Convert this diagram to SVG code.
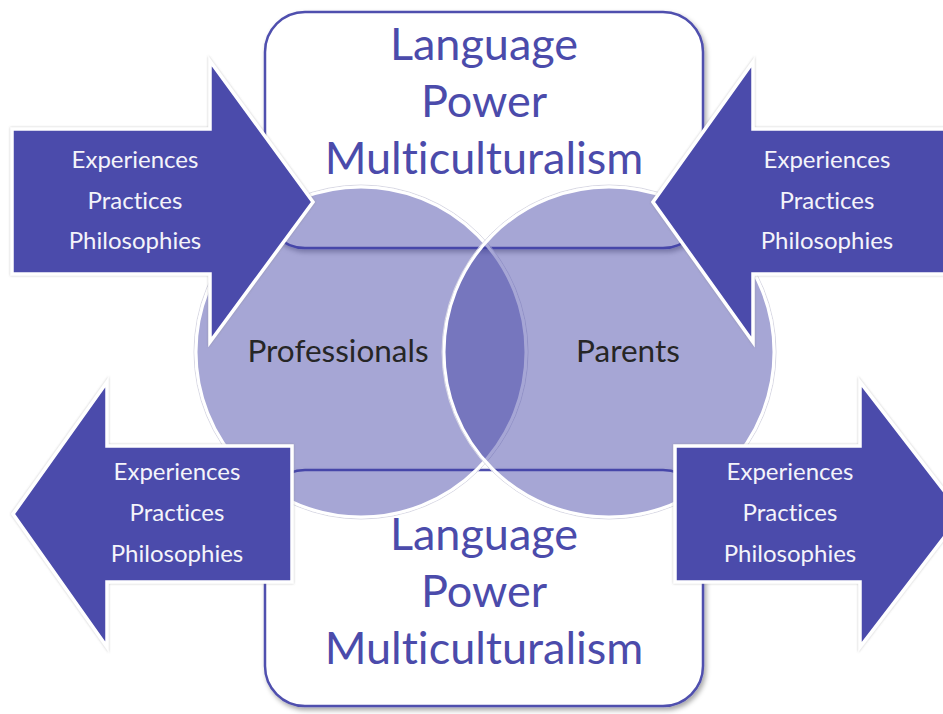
<svg xmlns="http://www.w3.org/2000/svg" width="943" height="714" viewBox="0 0 943 714">
  <defs>
    <filter id="boxShadow" x="-10%" y="-10%" width="120%" height="125%">
      <feDropShadow dx="2" dy="3" stdDeviation="2.5" flood-color="#000" flood-opacity="0.35"/>
    </filter>
    <filter id="edgeShadow" x="-10%" y="-10%" width="120%" height="120%">
      <feDropShadow dx="0" dy="0" stdDeviation="1" flood-color="#777" flood-opacity="0.45"/>
    </filter>
  </defs>
  <style>
    .box { fill: #ffffff; stroke: #4f4fae; stroke-width: 2.5; }
    .circle { fill: #3c3ca4; fill-opacity: 0.46; stroke: #ffffff; stroke-width: 3; }
    .circle-edge { fill: none; stroke: #d8d8e4; stroke-width: 1; }
    .arrow { fill: #4b4bab; stroke: #ffffff; stroke-width: 3.5; stroke-linejoin: miter; }
    text { font-family: Lato, "Open Sans", sans-serif; text-anchor: middle; font-variant-ligatures: none; }
    .theme { font-size: 45px; fill: #4b4bab; }
    .group { font-size: 31.5px; fill: #262626; }
    .item { font-size: 24px; fill: #f4f4fa; }
  </style>

  <!-- theme boxes, top and bottom -->
  <g id="theme-top">
    <rect class="box" x="265" y="12" width="438" height="236" rx="40" filter="url(#boxShadow)"/>
  </g>
  <g id="theme-bottom">
    <rect class="box" x="265" y="470" width="438" height="236" rx="40" filter="url(#boxShadow)"/>
  </g>

  <!-- Venn circles -->
  <g id="professionals">
    <circle class="circle-edge" cx="361" cy="352" r="167"/>
    <circle class="circle" cx="361" cy="352" r="165"/>
  </g>
  <g id="parents">
    <circle class="circle-edge" cx="609" cy="352" r="167"/>
    <circle class="circle" cx="609" cy="352" r="165"/>
  </g>

  <!-- connectors: block arrows -->
  <g id="connectors" filter="url(#edgeShadow)">
    <path id="arrow-top-left" class="arrow" d="M12,129 H210 V61 L313,202 L210,342 V274 H12 Z"/>
    <path id="arrow-top-right" class="arrow" d="M950,129 H753 V62 L653,202 L753,342 V274 H950 Z"/>
    <path id="arrow-bottom-left" class="arrow" d="M292,446 H107 V382 L13,514 L107,647 V582 H292 Z"/>
    <path id="arrow-bottom-right" class="arrow" d="M675,446 H860 V382 L962,514 L860,647 V582 H675 Z"/>
  </g>

  <!-- labels -->
  <g id="theme-top-text" class="theme">
    <text x="484" y="60">Language</text>
    <text x="484" y="117">Power</text>
    <text x="484" y="174">Multiculturalism</text>
  </g>
  <g id="theme-bottom-text" class="theme">
    <text x="484" y="550">Language</text>
    <text x="484" y="607">Power</text>
    <text x="484" y="664">Multiculturalism</text>
  </g>
  <g id="group-labels" class="group">
    <text x="338" y="362">Professionals</text>
    <text x="628" y="362">Parents</text>
  </g>
  <g id="arrow-top-left-text" class="item">
    <text x="135" y="168">Experiences</text>
    <text x="135" y="209">Practices</text>
    <text x="135" y="249">Philosophies</text>
  </g>
  <g id="arrow-top-right-text" class="item">
    <text x="827" y="168">Experiences</text>
    <text x="827" y="209">Practices</text>
    <text x="827" y="249">Philosophies</text>
  </g>
  <g id="arrow-bottom-left-text" class="item">
    <text x="177" y="480">Experiences</text>
    <text x="177" y="521">Practices</text>
    <text x="177" y="562">Philosophies</text>
  </g>
  <g id="arrow-bottom-right-text" class="item">
    <text x="790" y="480">Experiences</text>
    <text x="790" y="521">Practices</text>
    <text x="790" y="562">Philosophies</text>
  </g>
</svg>
